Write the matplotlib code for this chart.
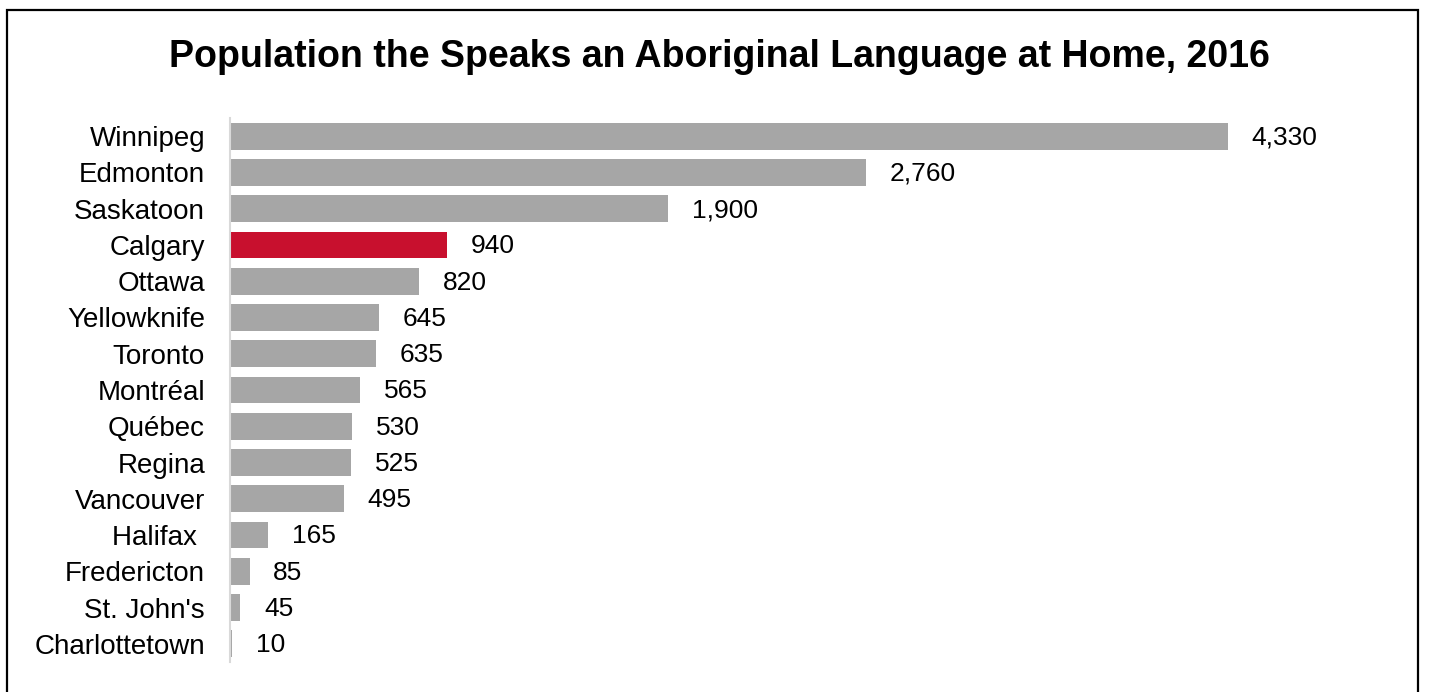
import matplotlib
matplotlib.use("Agg")
import matplotlib.pyplot as plt
from matplotlib.patches import Rectangle

plt.rcParams['font.family'] = ['Liberation Sans', 'DejaVu Sans']

cities = ["Winnipeg", "Edmonton", "Saskatoon", "Calgary", "Ottawa", "Yellowknife",
          "Toronto", "Montréal", "Québec", "Regina", "Vancouver", "Halifax ",
          "Fredericton", "St. John's", "Charlottetown"]
values = [4330, 2760, 1900, 940, 820, 645, 635, 565, 530, 525, 495, 165, 85, 45, 10]
highlight = "Calgary"
title = "Population the Speaks an Aboriginal Language at Home, 2016"

W, H = 1439, 692
fig = plt.figure(figsize=(W / 100, H / 100), dpi=100)
fig.patches.append(Rectangle((7 / W, 1 - 710 / H), (1418 - 7) / W, (710 - 10) / H,
                             transform=fig.transFigure, fill=False,
                             edgecolor='black', linewidth=1.6))

ax = fig.add_axes([230 / W, 1 - 662 / H, (1410 - 230) / W, (662 - 118) / H])
colors = ["#C8102E" if c == highlight else "#A6A6A6" for c in cities]
ypos = list(range(len(cities)))
bars = ax.barh(ypos, values, height=0.74, color=colors)
ax.set_ylim(len(cities) - 0.5, -0.5)
ax.set_xlim(0, (1410 - 230) / ((1228 - 230) / 4330))
ax.set_yticks(ypos)
ax.set_yticklabels(cities, fontsize=20)
ax.tick_params(axis='y', length=0, pad=18)
ax.set_xticks([])
for s in ['top', 'right', 'bottom']:
    ax.spines[s].set_visible(False)
ax.spines['left'].set_color('#D9D9D9')
ax.spines['left'].set_linewidth(1.5)

for b, v in zip(bars, values):
    ax.annotate(f"{v:,}", (b.get_width(), b.get_y() + b.get_height() / 2),
                xytext=(17, -1), textcoords='offset points', va='center', ha='left',
                fontsize=19)

fig.text(0.5 * (163 + 1275) / W, 1 - 67 / H, title, ha='center', va='baseline',
         fontsize=27, fontweight='bold')

fig.savefig("out.png", dpi=100)
